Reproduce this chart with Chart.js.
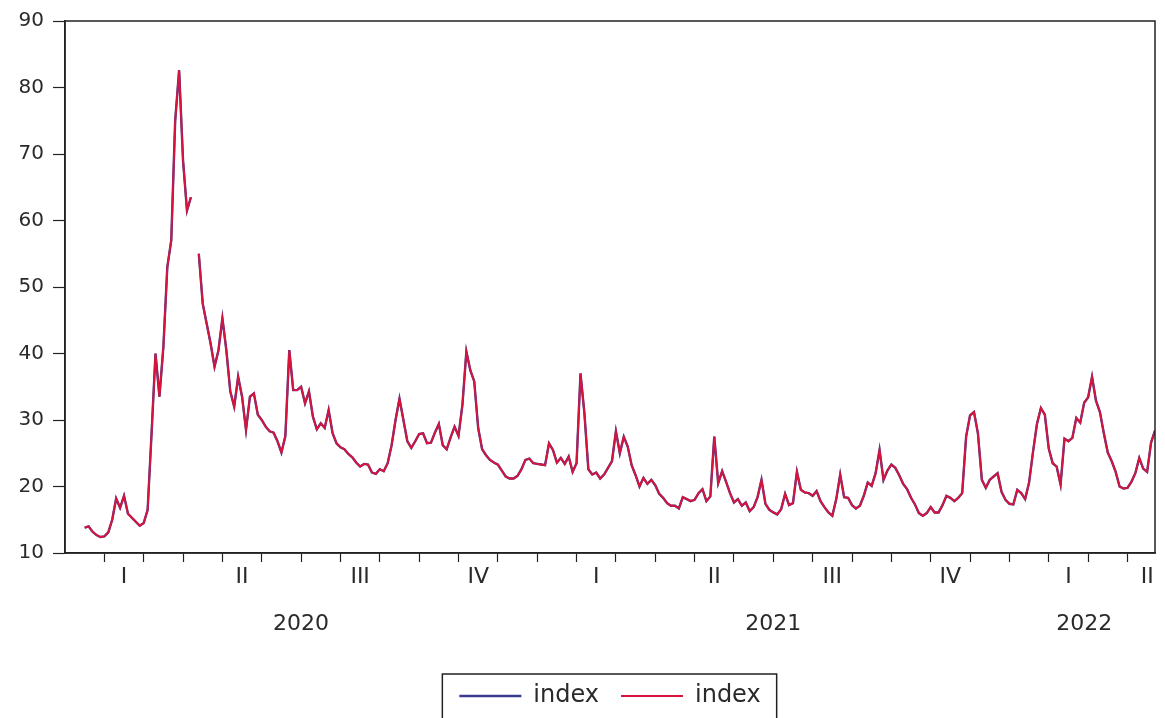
<!DOCTYPE html>
<html>
<head>
<meta charset="utf-8">
<script src="https://cdn.jsdelivr.net/npm/chart.js@4.4.1/dist/chart.umd.min.js"></script>
<style>
  html, body { margin: 0; padding: 0; background: #fff; }
  #wrap { width: 1165px; height: 718px; }
</style>
</head>
<body>
<div id="wrap"><canvas id="chart" width="1165" height="718"></canvas></div>
<script>
// observations every 0.1 month, first one in mid January 2020 (x axis in months since 1 Jan 2020)
const startMonth = 0.5;
const stepMonth = 0.1;

const index2020 = [
  13.8, 14.0, 13.2, 12.7, 12.4, 12.5, 13.1, 15.0, 18.2, 16.8,
  18.6, 15.9, 15.3, 14.7, 14.1, 14.5, 16.5, 28.0, 40.0, 33.5,
  41.0, 53.0, 57.0, 75.0, 82.6, 69.0, 61.5, 63.5, null, 55.0,
  47.5, 44.5, 41.5, 38.0, 40.5, 45.3, 40.5, 34.3, 32.0, 36.5,
  33.5, 28.5, 33.5, 34.0, 30.8, 30.0, 29.0, 28.3, 28.1, 26.8,
  25.1, 27.6, 40.5, 34.5, 34.5, 35.0, 32.5, 34.3, 30.5, 28.6,
  29.5, 28.8, 31.5, 28.0, 26.5, 25.9, 25.6, 24.9, 24.4, 23.6,
  23.0, 23.4, 23.3, 22.1, 21.9, 22.6, 22.3, 23.5, 26.2, 30.0,
  33.2, 30.0, 26.8, 25.8, 26.8, 27.9, 28.0, 26.5, 26.6, 28.1,
  29.4, 26.2, 25.6, 27.4, 29.0, 27.6, 32.3, 40.3, 37.5, 35.8,
  28.8, 25.6, 24.7, 24.0, 23.6, 23.3, 22.4, 21.5, 21.2, 21.2,
  21.6, 22.6, 24.0, 24.2, 23.5
];

const index2021 = [
  23.4, 23.3, 23.2, 26.5, 25.5, 23.6, 24.3, 23.4, 24.5, 22.2,
  23.5, 37.0, 31.0, 22.6, 21.8, 22.1, 21.2, 21.8, 22.8, 23.8,
  28.3, 25.0, 27.5, 26.0, 23.2, 21.7, 20.0, 21.3, 20.4, 21.0,
  20.2, 18.9, 18.3, 17.5, 17.1, 17.1, 16.7, 18.4, 18.1, 17.8,
  18.0, 19.0, 19.6, 17.8, 18.5, 27.5, 20.5, 22.3, 20.7, 19.0,
  17.6, 18.1, 17.1, 17.6, 16.3, 16.9, 18.4, 21.0, 17.4, 16.5,
  16.1, 15.8, 16.6, 18.9, 17.2, 17.5, 22.2, 19.5, 19.1, 19.0,
  18.6, 19.3, 17.8, 16.9, 16.1, 15.6, 18.1, 21.8, 18.4, 18.3,
  17.2, 16.7, 17.1, 18.6, 20.6, 20.1, 22.0, 25.5, 21.0, 22.4,
  23.3, 22.8, 21.7, 20.4, 19.6, 18.3, 17.3, 16.0, 15.6, 16.0,
  16.9, 16.1, 16.1, 17.2, 18.6, 18.3, 17.8, 18.3, 19.0, 27.5,
  30.7, 31.2, 28.0, 21.0, 19.8, 21.0, 21.5, 22.0, 19.2, 18.0
];

const index2022 = [
  17.4, 17.3, 19.5, 19.0, 18.1, 20.6, 25.2, 29.4, 31.8, 30.8,
  25.7, 23.5, 23.0, 20.3, 27.2, 26.8, 27.3, 30.3, 29.6, 32.6,
  33.4, 36.5, 32.9, 31.2, 28.0, 25.1, 23.8, 22.2, 20.0, 19.7,
  19.8, 20.7, 22.0, 24.3, 22.7, 22.2, 26.6, 28.4
];

// axis: months since Jan 2020
const axisEnd = 27.7;
const monthTicks = [];
for (let m = 1; m <= 27; m++) monthTicks.push(m);
const quarterPos = [1.5, 4.5, 7.5, 10.5, 13.5, 16.5, 19.5, 22.5, 25.5, 27.5];
const quarterLabels = ['I', 'II', 'III', 'IV', 'I', 'II', 'III', 'IV', 'I', 'II'];
const yearPos = [6, 18, 25.9];
const yearLabels = ['2020', '2021', '2022'];
const yTicks = [10, 20, 30, 40, 50, 60, 70, 80, 90];

const allValues = index2020.concat(index2021, index2022);
const points = allValues.map((v, i) => ({ x: startMonth + i * stepMonth, y: v }));

const axisColor = '#222';
const textColor = '#2a2a2a';
const fontFamily = '"DejaVu Sans", sans-serif';

const frame = {
  id: 'frame',
  afterDraw(chart) {
    const { ctx, chartArea: a } = chart;
    ctx.save();
    ctx.strokeStyle = axisColor;
    ctx.lineWidth = 1.5;
    ctx.strokeRect(a.left, a.top, a.right - a.left, a.bottom - a.top);
    // box round the legend, bottom edge falls off the canvas
    const hb = chart.legend.legendHitBoxes;
    if (hb && hb.length) {
      const first = hb[0], last = hb[hb.length - 1];
      const left = first.left - 17;
      const right = last.left + last.width + 16;
      const top = first.top + first.height / 2 - 22;
      ctx.lineWidth = 1.5;
      ctx.strokeRect(left, top, right - left, chart.height + 10 - top);
    }
    ctx.restore();
  }
};

const ctx = document.getElementById('chart').getContext('2d');
new Chart(ctx, {
  type: 'line',
  data: {
    datasets: [
      { label: 'index', data: points, borderColor: '#3a3a8e', backgroundColor: '#3a3a8e',
        borderWidth: 2.4, pointRadius: 0, tension: 0, order: 1 },
      { label: 'index', data: points, borderColor: '#d8143c', backgroundColor: '#d8143c',
        borderWidth: 1.9, pointRadius: 0, tension: 0, order: 0 }
    ]
  },
  options: {
    responsive: false,
    animation: false,
    layout: { padding: { top: 19, right: 10, left: 0, bottom: 0 } },
    plugins: {
      tooltip: { enabled: false },
      legend: {
        position: 'bottom',
        fullSize: false,
        labels: {
          usePointStyle: true,
          pointStyle: 'line',
          pointStyleWidth: 62,
          padding: 22,
          color: textColor,
          font: { family: fontFamily, size: 24 },
          sort: (a, b) => a.datasetIndex - b.datasetIndex
        }
      }
    },
    scales: {
      x: {
        type: 'linear',
        min: 0,
        max: axisEnd,
        afterBuildTicks: (scale) => {
          scale.ticks = monthTicks.concat(quarterPos).sort((a, b) => a - b).map(v => ({ value: v }));
        },
        afterFit: (scale) => { scale.height = 45; },
        ticks: {
          autoSkip: false,
          maxRotation: 0,
          padding: 2,
          color: textColor,
          font: { family: fontFamily, size: 22 },
          callback: (value) => {
            const i = quarterPos.indexOf(value);
            return i >= 0 ? quarterLabels[i] : '';
          }
        },
        grid: {
          drawOnChartArea: false,
          tickLength: 9,
          tickWidth: 1.2,
          tickColor: (c) => (c.tick && Number.isInteger(c.tick.value)) ? axisColor : 'rgba(0,0,0,0)'
        },
        border: { color: axisColor, width: 1.5 }
      },
      year: {
        type: 'linear',
        position: 'bottom',
        min: 0,
        max: axisEnd,
        afterBuildTicks: (scale) => {
          scale.ticks = yearPos.map(v => ({ value: v }));
        },
        afterFit: (scale) => { scale.height = 64; },
        ticks: {
          autoSkip: false,
          maxRotation: 0,
          padding: 13,
          color: textColor,
          font: { family: fontFamily, size: 22 },
          callback: (value) => {
            const i = yearPos.indexOf(value);
            return i >= 0 ? yearLabels[i] : '';
          }
        },
        grid: { display: false, drawTicks: false },
        border: { display: false }
      },
      y: {
        min: 10,
        max: 90,
        afterBuildTicks: (scale) => {
          scale.ticks = yTicks.map(v => ({ value: v }));
        },
        afterFit: (scale) => { scale.width = 65; },
        ticks: {
          padding: 9,
          color: textColor,
          font: { family: fontFamily, size: 20 }
        },
        grid: {
          drawOnChartArea: false,
          tickLength: 12,
          tickWidth: 1.2,
          tickColor: axisColor
        },
        border: { color: axisColor, width: 1.5 }
      }
    }
  },
  plugins: [frame]
});
</script>
</body>
</html>
